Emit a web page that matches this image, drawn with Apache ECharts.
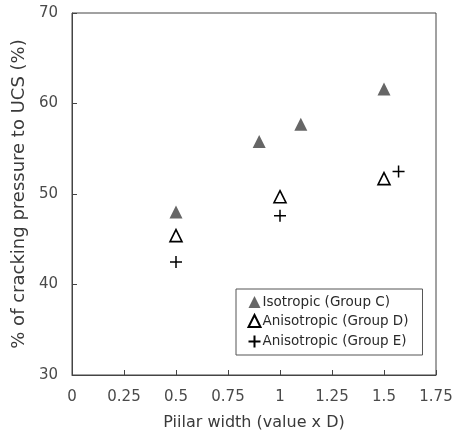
<!DOCTYPE html>
<html><head><meta charset="utf-8">
<script src="https://cdn.jsdelivr.net/npm/echarts@6/dist/echarts.min.js"></script>
<style>html,body{margin:0;padding:0;background:#fff}#c{width:456px;height:436px}</style>
</head><body><div id="c"></div>
<script>
var isoC = [[0.5, 48.0], [0.9, 55.8], [1.1, 57.7], [1.5, 61.6]];
var anisoD = [[0.5, 45.4], [1.0, 49.7], [1.5, 51.7]];
var anisoE = [[0.5, 42.5], [1.0, 47.6], [1.57, 52.5]];
var seriesNames = ['Isotropic (Group C)', 'Anisotropic (Group D)', 'Anisotropic (Group E)'];
var xTitle = 'Piilar width (value x D)';
var yTitle = '% of cracking pressure to UCS (%)';

var FONT = 'DejaVu Sans, sans-serif';
var chart = echarts.init(document.getElementById('c'));
chart.setOption({
  animation: false,
  grid: {left: 72, right: 20, top: 13, bottom: 61, show: true, borderColor: '#444', borderWidth: 1},
  xAxis: {
    type: 'value', min: 0, max: 1.75, interval: 0.25,
    name: xTitle, nameLocation: 'middle', nameGap: 40,
    nameTextStyle: {fontFamily: FONT, fontSize: 16, color: '#3a3a3a'},
    axisLine: {lineStyle: {color: '#444'}},
    axisTick: {inside: true, length: 5, lineStyle: {color: '#444'}},
    axisLabel: {fontFamily: FONT, fontSize: 15, color: '#4a4a4a', margin: 15},
    splitLine: {show: false}
  },
  yAxis: {
    type: 'value', min: 30, max: 70, interval: 10,
    name: yTitle, nameLocation: 'middle', nameGap: 37,
    nameTextStyle: {fontFamily: FONT, fontSize: 18, color: '#3a3a3a'},
    axisLine: {show: true, lineStyle: {color: '#444'}},
    axisTick: {show: true, inside: true, length: 5, lineStyle: {color: '#444'}},
    axisLabel: {fontFamily: FONT, fontSize: 15, color: '#4a4a4a', margin: 14},
    splitLine: {show: false}
  },
  legend: {
    orient: 'vertical', left: 236, top: 289, width: 180,
    padding: [6, 14, 5, 10], itemGap: 5, itemWidth: 12, itemHeight: 12,
    borderColor: '#555', borderWidth: 1, backgroundColor: '#fff',
    textStyle: {fontFamily: FONT, fontSize: 13.5, color: '#2a2a2a', padding: [0, 0, 0, -3]},
    data: seriesNames
  },
  series: [
    {name: seriesNames[0], type: 'scatter', data: isoC, symbol: 'triangle', symbolSize: 13,
     itemStyle: {color: '#666666', opacity: 1}},
    {name: seriesNames[1], type: 'scatter', data: anisoD, symbol: 'triangle', symbolSize: 12,
     itemStyle: {color: '#ffffff', borderColor: '#000', borderWidth: 1.6, opacity: 1}},
    {name: seriesNames[2], type: 'scatter', data: anisoE, symbol: 'path://M0,5L10,5M5,0L5,10', symbolSize: 12,
     itemStyle: {color: 'none', borderColor: '#000', borderWidth: 1.5, opacity: 1}}
  ]
});
</script></body></html>
